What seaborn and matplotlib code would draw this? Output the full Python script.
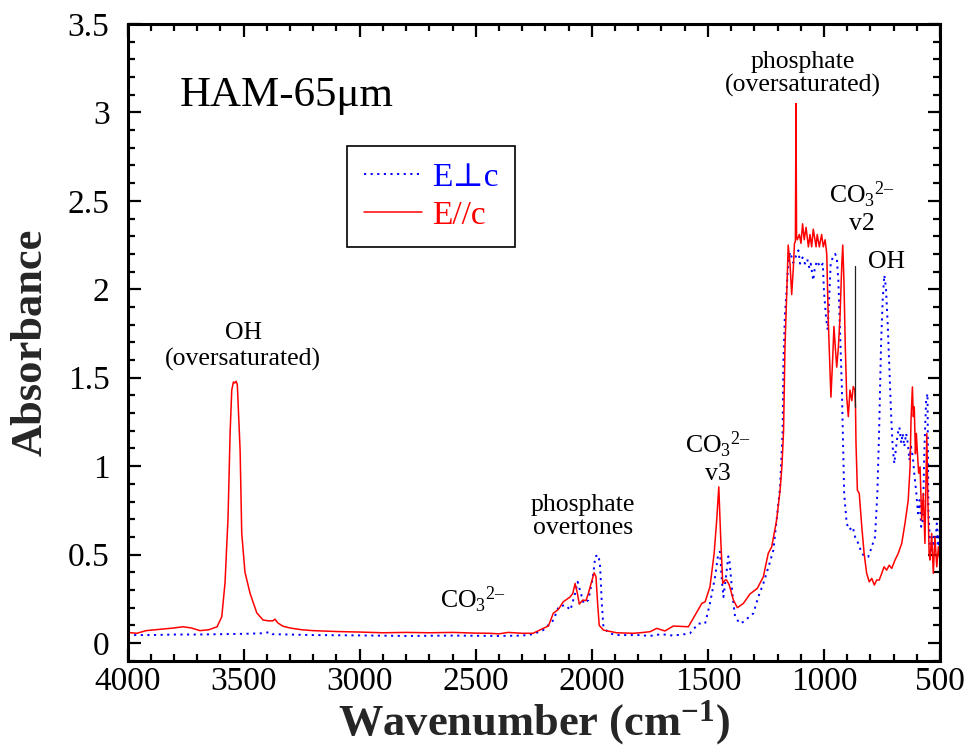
import matplotlib
matplotlib.use("Agg")
import matplotlib.pyplot as plt
import seaborn as sns
import pandas as pd
from matplotlib.ticker import MultipleLocator, FuncFormatter

# ---------------- data ----------------
series_labels = ["E\u22a5c", "E//c"]
series_colors = ["#0000ff", "#ff0000"]

perp_wavenumber = [4000, 3900, 3800, 3700, 3600, 3500, 3420, 3386, 3375, 3300, 3200, 3000,
                   2800, 2600, 2400, 2300, 2253, 2209, 2165, 2143, 2114, 2092, 2070, 2061,
                   2049, 2035, 2015, 1995, 1985, 1971, 1964, 1957, 1950, 1930, 1900, 1800,
                   1750, 1700, 1650, 1600, 1577, 1541, 1512, 1491, 1469, 1455, 1448, 1440,
                   1433, 1422, 1412, 1408, 1393, 1383, 1362, 1347, 1304, 1283, 1261, 1232,
                   1218, 1204, 1189, 1178, 1175, 1168, 1160, 1154, 1146, 1139, 1132, 1120,
                   1110, 1103, 1092, 1082, 1072, 1063, 1057, 1046, 1039, 1029, 1017, 1005,
                   1000, 991, 984, 977, 971, 962, 952, 945, 938, 931, 923, 919, 913, 902,
                   891, 876, 866, 852, 837, 823, 809, 794, 780, 770, 762, 754, 747, 740,
                   733, 725, 718, 711, 704, 697, 689, 682, 675, 667, 661, 654, 646, 639,
                   632, 625, 617, 611, 602, 595, 588, 581, 574, 567, 560, 554, 550, 543,
                   536, 529, 522, 514, 507, 500]
perp_absorbance = [0.045, 0.045, 0.048, 0.048, 0.050, 0.052, 0.055, 0.062, 0.050, 0.048, 0.045, 0.043,
                   0.040, 0.042, 0.040, 0.042, 0.050, 0.073, 0.130, 0.205, 0.215, 0.186, 0.290, 0.346,
                   0.290, 0.224, 0.243, 0.375, 0.490, 0.497, 0.430, 0.224, 0.092, 0.060, 0.045, 0.045,
                   0.040, 0.050, 0.042, 0.050, 0.055, 0.110, 0.110, 0.224, 0.375, 0.507, 0.516, 0.356,
                   0.260, 0.375, 0.490, 0.480, 0.260, 0.149, 0.110, 0.120, 0.168, 0.260, 0.337, 0.460,
                   0.525, 0.695, 0.883, 1.200, 1.580, 1.860, 2.010, 2.145, 2.210, 2.180, 2.150, 2.190,
                   2.220, 2.145, 2.180, 2.145, 2.170, 2.120, 2.145, 2.050, 2.126, 2.160, 2.126, 2.145,
                   1.990, 1.840, 1.770, 1.960, 2.145, 2.180, 2.200, 2.180, 2.050, 1.770, 1.450, 1.200, 0.846, 0.676,
                   0.640, 0.657, 0.600, 0.563, 0.507, 0.488, 0.488, 0.544, 0.600, 0.846, 1.220, 1.690, 1.940, 2.080,
                   2.010, 1.790, 1.540, 1.300, 1.110, 1.015, 1.110, 1.185, 1.220, 1.130, 1.185, 1.110, 1.185, 1.130,
                   1.034, 1.110, 1.050, 0.960, 0.846, 0.733, 0.808, 0.657, 0.695, 1.110, 1.370, 1.410, 0.750, 0.563,
                   0.507, 0.600, 0.525, 0.676, 0.544, 0.657]

par_wavenumber = [4000, 3960, 3920, 3880, 3847, 3800, 3761, 3725, 3688, 3650, 3614, 3594, 3580,
                  3567, 3558, 3551, 3544, 3538, 3532, 3527, 3515, 3508, 3494, 3472, 3443, 3416,
                  3390, 3373, 3365, 3352, 3330, 3300, 3250, 3201, 3100, 3000, 2900, 2800, 2700,
                  2600, 2500, 2440, 2400, 2360, 2300, 2253, 2209, 2187, 2166, 2144, 2123, 2094,
                  2082, 2072, 2062, 2054, 2039, 2025, 2015, 2005, 1990, 1982, 1975, 1968, 1950,
                  1893, 1821, 1792, 1749, 1720, 1685, 1649, 1584, 1555, 1526, 1512, 1491, 1473,
                  1462, 1453, 1445, 1436, 1426, 1419, 1408, 1390, 1373, 1347, 1319, 1287, 1261,
                  1240, 1225, 1204, 1189, 1181, 1174, 1168, 1160, 1154, 1146, 1139, 1132, 1127,
                  1123, 1120.5, 1118, 1115, 1106, 1099, 1092, 1085, 1077, 1067, 1060, 1053, 1046,
                  1034, 1029, 1020, 1010, 1003, 995, 988, 981, 974, 970, 962, 957, 951, 945, 938,
                  931, 923, 919, 914, 908, 902, 895, 888, 880, 874, 867, 864, 862, 856, 848, 837,
                  827, 816, 805, 794, 783, 773, 762, 751, 741, 730, 719, 708, 694, 680, 665, 651,
                  637, 629, 625, 619, 615, 611, 606, 602, 598, 592, 586, 579, 572, 565, 557, 553,
                  547, 543, 536, 529, 522, 514, 507, 500]
par_absorbance = [0.060, 0.055, 0.070, 0.075, 0.079, 0.085, 0.092, 0.085, 0.070, 0.075, 0.092, 0.149, 0.340,
                  0.710, 1.190, 1.430, 1.476, 1.470, 1.480, 1.460, 1.090, 0.620, 0.400, 0.280, 0.170, 0.130,
                  0.125, 0.126, 0.135, 0.113, 0.095, 0.085, 0.075, 0.070, 0.065, 0.062, 0.058, 0.060, 0.058,
                  0.060, 0.056, 0.055, 0.052, 0.060, 0.055, 0.055, 0.083, 0.096, 0.168, 0.190, 0.233, 0.260,
                  0.280, 0.337, 0.280, 0.220, 0.243, 0.240, 0.280, 0.328, 0.397, 0.375, 0.224, 0.100, 0.073,
                  0.058, 0.055, 0.058, 0.064, 0.083, 0.068, 0.096, 0.092, 0.158, 0.224, 0.233, 0.318, 0.507,
                  0.695, 0.883, 0.600, 0.337, 0.356, 0.356, 0.328, 0.243, 0.200, 0.224, 0.277, 0.309, 0.375,
                  0.507, 0.544, 0.695, 0.864, 1.000, 1.200, 1.670, 1.990, 2.250, 2.140, 1.970, 2.120, 2.260,
                  2.270, 3.050, 2.300, 2.280, 2.310, 2.260, 2.370, 2.280, 2.350, 2.240, 2.310, 2.240, 2.340,
                  2.240, 2.310, 2.240, 2.310, 2.240, 2.280, 2.200, 1.810, 1.540, 1.390, 1.620, 1.790, 1.670, 1.560, 1.670,
                  1.840, 2.145, 2.250, 2.050, 1.670, 1.390, 1.280, 1.430, 1.370, 1.450, 1.430, 1.330, 1.130, 0.864, 0.846, 0.657,
                  0.507, 0.394, 0.346, 0.365, 0.328, 0.356, 0.356, 0.394, 0.431, 0.412, 0.440, 0.422, 0.469, 0.507, 0.563, 0.676,
                  0.808, 0.996, 1.260, 1.448, 1.280, 1.335, 1.070, 1.185, 1.090, 0.960, 0.996, 0.695, 0.846, 0.563, 1.185, 0.846,
                  0.507, 0.469, 0.620, 0.394, 0.600, 0.431, 0.544, 0.469]

# marker line for the CO3 v2 band
v2_marker_wavenumber = [866, 866]
v2_marker_absorbance = [1.335, 2.13]

# ---------------- style ----------------
sns.set_style("ticks")
plt.rcParams.update({
    "font.family": ["Liberation Serif", "DejaVu Serif"],
    "mathtext.fontset": "custom",
    "mathtext.rm": "Liberation Serif",
    "mathtext.it": "Liberation Serif:italic",
    "mathtext.bf": "Liberation Serif:bold",
    "axes.linewidth": 2.2,
    "axes.edgecolor": "black",
    "xtick.color": "black",
    "ytick.color": "black",
    "text.color": "black",
})

fig = plt.figure(figsize=(9.69, 7.52), dpi=100)
ax = fig.add_axes([0.1316, 0.1214, 0.9701 - 0.1316, 0.9681 - 0.1214])

df_perp = pd.DataFrame({"wavenumber": perp_wavenumber, "absorbance": perp_absorbance})
df_par = pd.DataFrame({"wavenumber": par_wavenumber, "absorbance": par_absorbance})

sns.lineplot(data=df_perp, x="wavenumber", y="absorbance", sort=False, estimator=None,
             color=series_colors[0], linestyle=(0, (1.1, 2.3)), linewidth=1.4, ax=ax)
sns.lineplot(data=df_par, x="wavenumber", y="absorbance", sort=False, estimator=None,
             color=series_colors[1], linewidth=1.1, ax=ax)
ax.plot(v2_marker_wavenumber, v2_marker_absorbance, color="#222222", linewidth=0.9)

ax.set_xlim(4000, 500)
ax.set_ylim(-0.1, 3.5)

ax.xaxis.set_major_locator(MultipleLocator(500))
ax.xaxis.set_minor_locator(MultipleLocator(100))
ax.yaxis.set_major_locator(MultipleLocator(0.5))
ax.yaxis.set_minor_locator(MultipleLocator(0.1))
ax.yaxis.set_major_formatter(FuncFormatter(lambda v, p: f"{v:g}"))
ax.xaxis.set_major_formatter(FuncFormatter(lambda v, p: f"{v:g}"))

ax.tick_params(which="both", direction="in", top=True, right=True, width=1.6)
ax.tick_params(which="major", length=9)
ax.tick_params(which="minor", length=5)
ax.tick_params(axis="x", which="major", labelsize=24, pad=4)
ax.tick_params(axis="y", which="major", labelsize=24, pad=13)

ax.set_xlabel("Wavenumber (cm$^{\\mathbf{-1}}$)", fontsize=32, fontweight="bold", labelpad=1)
ax.set_ylabel("Absorbance", fontsize=32, fontweight="bold", labelpad=12)

# legend
handles = [ax.lines[0], ax.lines[1]]
leg = ax.legend(handles, series_labels, loc="upper left", bbox_to_anchor=(0.270, 0.809),
                borderaxespad=0, fontsize=24, labelcolor=series_colors, frameon=True,
                fancybox=False, shadow=False, framealpha=1, edgecolor="black",
                handlelength=1.75, handletextpad=0.3, borderpad=0.5, labelspacing=0.22)
leg.get_frame().set_linewidth(1.2)

# annotations
co3 = "CO$_3$$^{2\u2013}$"
ax.text(3774, 3.096, "HAM-65\u03bcm", fontsize=31, ha="left", va="center")
ax.text(3502, 1.675, "OH\n(oversaturated)", fontsize=18.5, ha="center", va="center",
        multialignment="center")
ax.text(2038, 0.715, "phosphate\novertones", fontsize=18.5, ha="center", va="center",
        multialignment="center", linespacing=1.05)
ax.text(2511, 0.243, co3, fontsize=18.5, ha="center", va="center")
ax.text(1456, 1.05, co3 + "\nv3", fontsize=18.5, ha="center", va="center",
        multialignment="center")
ax.text(1090, 3.217, "phosphate\n(oversaturated)", fontsize=18.5, ha="center", va="center",
        multialignment="center", linespacing=1.05)
ax.text(836, 2.463, co3 + "\nv2", fontsize=18.5, ha="center", va="center",
        multialignment="center")
ax.text(732, 2.153, "OH", fontsize=18.5, ha="center", va="center")

fig.savefig("out.png", dpi=100)
